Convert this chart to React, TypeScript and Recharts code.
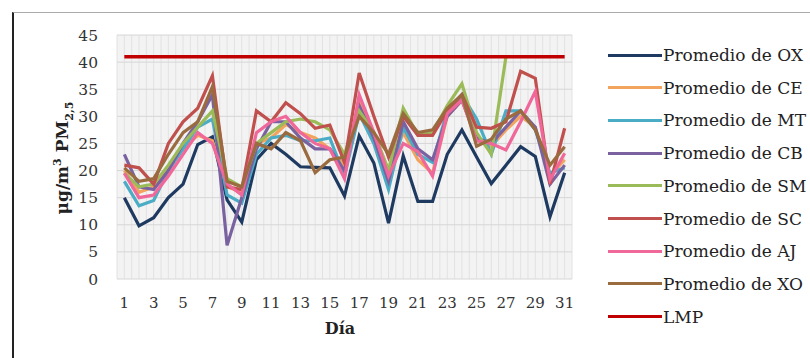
import React from 'react';
import { LineChart, Line, XAxis, YAxis, CartesianGrid } from 'recharts';

const days = [1, 2, 3, 4, 5, 6, 7, 8, 9, 10, 11, 12, 13, 14, 15, 16, 17, 18, 19, 20, 21, 22, 23, 24, 25, 26, 27, 28, 29, 30, 31];
const yTicks = [0, 5, 10, 15, 20, 25, 30, 35, 40, 45];

const OX = [15, 9.8, 11.3, 15, 17.5, 24.8, 26.2, 14.6, 10.5, 22, 25, 23, 20.7, 20.6, 20.5, 15.3, 26.4, 21.4, 10.3, 22.7, 14.3, 14.3, 23, 27.5, 22.5, 17.6, 21, 24.4, 22.6, 11.5, 19.6];
const CE = [20, 16, 17, 20.5, 24, 26.5, 25.5, 17, 16, 25, 26, 28.5, 27, 26, 24, 21, 33, 27, 20, 27, 22, 19.5, 30, 33, 26, 24.5, 27.5, 30, 28, 19, 22];
const MT = [18, 13.5, 14.5, 20, 24, 28, 29.5, 15.5, 14, 23, 26, 26.5, 25.5, 25.5, 26, 19, 30.5, 25, 16.5, 28, 23, 21.5, 31, 34, 29.5, 23, 31, 31, 27.5, 19.5, 20.5];
const CB = [23, 17, 16.5, 20, 25, 29, 34, 6.2, 15, 24, 29, 29, 26, 24, 24, 20, 32, 26, 18, 29, 24, 22, 30, 33, 26, 25, 28, 31, 28, 17.5, 21];
const SM = [19.5, 17, 17.5, 21, 25, 28, 31, 18.5, 17, 25, 27, 29, 29.5, 29, 27.5, 23, 31, 27, 20, 31.5, 26.5, 27, 32, 36, 27, 23, 41, null, null, null, null];
const SC = [21, 20.5, 17.5, 25, 29, 31.5, 37.5, 17, 16.5, 31, 29, 32.5, 30.5, 27.8, 28.4, 21.5, 38, 30, 22.5, 30, 26.5, 26.5, 31, 34, 28, 27.8, 29, 38.3, 37, 17.5, 27.8];
const AJ = [19.5, 15, 15.5, 19, 23, 27, 25, 17.5, 15.5, 27, 29, 30, 27, 25, 24, 18.5, 34, 27, 19, 25, 23.5, 19, 30.5, 33, 25.5, 25, 23.8, 29, 34.6, 18.3, 23.2];
const XO = [20.5, 18, 18.5, 23, 27, 29, 35.5, 18, 17, 25, 24, 27, 25.5, 19.6, 22, 22.5, 30, 27, 23, 30.5, 27, 27.5, 31.5, 34, 24.5, 25.8, 29.5, 31, 27.5, 21, 24.4];
const LMP = 41;

const series = [
  { key: 'OX', name: 'Promedio de OX', color: '#1F3A60', values: OX },
  { key: 'CE', name: 'Promedio de CE', color: '#F2A35E', values: CE },
  { key: 'MT', name: 'Promedio de MT', color: '#4BACC6', values: MT },
  { key: 'CB', name: 'Promedio de CB', color: '#7A62A0', values: CB },
  { key: 'SM', name: 'Promedio de SM', color: '#9BBB59', values: SM },
  { key: 'SC', name: 'Promedio de SC', color: '#C0504D', values: SC },
  { key: 'AJ', name: 'Promedio de AJ', color: '#F0679A', values: AJ },
  { key: 'XO', name: 'Promedio de XO', color: '#9A6B3F', values: XO },
];
const lmpSeries = { key: 'LMP', name: 'LMP', color: '#C00000' };

const data = days.map((d, i) => {
  const row: any = { day: d, LMP };
  series.forEach((s) => {
    row[s.key] = s.values[i];
  });
  return row;
});

const legendItems = [...series, lmpSeries];
const serif = '"DejaVu Serif", serif';

export default function App() {
  return (
    <div style={{ position: 'absolute', left: 0, top: 0, width: 810, height: 358, background: '#fff', overflow: 'hidden' }}>
      <div style={{ position: 'absolute', left: 12, top: 12, width: 820, height: 360, borderLeft: '2px solid #222', borderTop: '1px solid #aaa' }} />
      <div style={{ position: 'absolute', left: 0, top: 0 }}>
        <LineChart width={810} height={358} data={data} margin={{ top: 35, right: 238, bottom: 49, left: 0 }}>
          <CartesianGrid
            horizontal={false}
            vertical={true}
            fill="#f3f3f3"
            stroke="#e2e2e2"
            strokeWidth={1}
            verticalCoordinatesGenerator={({ offset }: any) => {
              const arr: number[] = [];
              for (let i = 0; i <= 62; i++) arr.push(offset.left + (i * offset.width) / 62);
              return arr;
            }}
          />
          <CartesianGrid horizontal={true} vertical={false} stroke="#d6d6d6" strokeWidth={1} />
          <XAxis
            dataKey="day"
            scale="band"
            interval={1}
            axisLine={false}
            tickLine={false}
            tickSize={0}
            tickMargin={18}
            height={30}
            tick={{ fontSize: 15, fontFamily: serif, fill: '#333' }}
          />
          <YAxis
            domain={[0, 45]}
            ticks={yTicks}
            width={117}
            axisLine={false}
            tickLine={false}
            tickSize={0}
            tickMargin={19}
            tick={{ fontSize: 15.5, fontFamily: serif, fill: '#333' }}
          />
          {series.map((s) => (
            <Line
              key={s.key}
              type="linear"
              dataKey={s.key}
              name={s.name}
              stroke={s.color}
              strokeWidth={3.2}
              dot={false}
              isAnimationActive={false}
              connectNulls={false}
            />
          ))}
          <Line type="linear" dataKey="LMP" name="LMP" stroke={lmpSeries.color} strokeWidth={3.5} dot={false} isAnimationActive={false} />
        </LineChart>
      </div>
      <div
        style={{
          position: 'absolute',
          left: 64,
          top: 158,
          transform: 'translate(-50%, -50%) rotate(-90deg)',
          whiteSpace: 'nowrap',
          fontFamily: serif,
          fontWeight: 'bold',
          fontSize: 17,
          color: '#222',
          lineHeight: '20px',
        }}
      >
        μg/m<sup style={{ fontSize: 11 }}>3</sup> PM<sub style={{ fontSize: 11 }}>2,5</sub>
      </div>
      <div
        style={{
          position: 'absolute',
          left: 340,
          top: 328,
          transform: 'translate(-50%, -50%)',
          fontFamily: serif,
          fontWeight: 'bold',
          fontSize: 16,
          color: '#222',
        }}
      >
        Día
      </div>
      {legendItems.map((it, i) => (
        <div
          key={it.key}
          style={{ position: 'absolute', left: 608, top: 55 + i * 32.7 - 12, height: 24, display: 'flex', alignItems: 'center', whiteSpace: 'nowrap' }}
        >
          <div style={{ width: 54, height: 3, background: it.color }} />
          <span style={{ fontFamily: serif, fontSize: 17, color: '#222', marginLeft: 1 }}>{it.name}</span>
        </div>
      ))}
    </div>
  );
}
